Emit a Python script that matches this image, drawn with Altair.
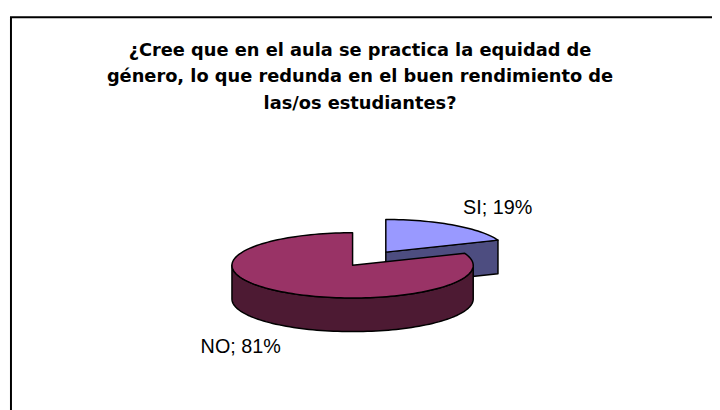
import altair as alt
import pandas as pd
import numpy as np

# ---- data ----
categories = ["SI", "NO"]
values = [19, 81]
title_lines = [
    "¿Cree que en el aula se practica la equidad de",
    "género, lo que redunda en el buen rendimiento de",
    "las/os estudiantes?",
]
top_colors = ["#9999FF", "#993366"]
side_colors = ["#4D4D80", "#4D1A33"]
explode = [0.49, 0.0]

# ---- geometry / style ----
W, H = 712, 402
RX, RY, DEPTH = 122.0, 33.0, 34.0
CX, CY = 356.5 - 8, 266.0 - 8
D = DEPTH / RY
N = 180

total = sum(values)
rows = []
labels = []
polys = []  # (name, fill, kind)
start = 0.0
for k, (cat, v) in enumerate(zip(categories, values)):
    s = start
    e = start + 2 * np.pi * v / total
    start = e
    mid = (s + e) / 2
    ox, oy = explode[k] * np.sin(mid), explode[k] * np.cos(mid)

    def add(name, pts):
        for i, (px, py) in enumerate(pts):
            rows.append({"poly": name, "i": i, "x": px, "y": py})

    # top face
    th = np.linspace(s, e, max(int(N * (e - s) / (2 * np.pi)), 4))
    top = [(ox, oy)] + [(ox + np.sin(t), oy + np.cos(t)) for t in th]
    add(f"top{k}", top)
    polys.append((f"top{k}", top_colors[k], "top"))
    # radial faces
    for a, visible in ((e, 0 < (e % (2 * np.pi)) < np.pi - 1e-9),
                       (s, np.pi + 1e-9 < (s % (2 * np.pi)) < 2 * np.pi)):
        if visible:
            face = [(ox, oy), (ox + np.sin(a), oy + np.cos(a)),
                    (ox + np.sin(a), oy + np.cos(a) - D), (ox, oy - D)]
            add(f"rad{k}_{a:.3f}", face)
            polys.append((f"rad{k}_{a:.3f}", side_colors[k], "side"))
    # curved front side
    a0, a1 = max(s, np.pi / 2), min(e, 3 * np.pi / 2)
    if a1 > a0:
        th = np.linspace(a0, a1, max(int(N * (a1 - a0) / (2 * np.pi)), 4))
        upper = [(ox + np.sin(t), oy + np.cos(t)) for t in th]
        lower = [(x, y - D) for x, y in upper[::-1]]
        add(f"curve{k}", upper + lower)
        polys.append((f"curve{k}", side_colors[k], "side"))
    # label
    lr = 1.65
    lx, ly = ox + lr * np.sin(mid), oy + lr * np.cos(mid)
    if np.cos(mid) < 0:
        ly -= D + 0.1
    labels.append({"label": f"{cat}; {v}%", "x": lx, "y": ly})

pie_df = pd.DataFrame(rows)
label_df = pd.DataFrame(labels)

xs = alt.Scale(domain=[(0 - CX) / RX, (W - CX) / RX], nice=False, zero=False)
ys = alt.Scale(domain=[(CY - H) / RY, CY / RY], nice=False, zero=False)

layers = []
ordered = [p for p in polys if p[2] == "side"] + [p for p in polys if p[2] == "top"]
for name, fill, kind in ordered:
    layers.append(
        alt.Chart(pie_df)
        .transform_filter(alt.datum.poly == name)
        .mark_line(interpolate="linear-closed", filled=True, fill=fill,
                   stroke="black", strokeWidth=1.5, strokeJoin="round")
        .encode(x=alt.X("x:Q", scale=xs, axis=None),
                y=alt.Y("y:Q", scale=ys, axis=None),
                order=alt.Order("i:Q"))
    )

text = alt.Chart(label_df).mark_text(
    font="Liberation Sans", fontSize=20, color="black",
    align="center", baseline="middle"
).encode(x=alt.X("x:Q", scale=xs, axis=None),
         y=alt.Y("y:Q", scale=ys, axis=None),
         text="label:N")

border = alt.Chart(alt.Data(values=[{}])).mark_rect(
    fill=None, stroke="black", strokeWidth=2
).encode(x=alt.value(3), x2=alt.value(740), y=alt.value(7), y2=alt.value(440))

chart = alt.layer(border, *layers, text).properties(
    width=W, height=H,
    autosize=alt.AutoSizeParams(type="none"),
    padding=0,
    background="white",
    title=alt.Title(
        text=title_lines, font="DejaVu Sans", fontSize=18,
        fontWeight="bold", color="black", lineHeight=27,
        anchor="middle", baseline="top", offset=-104,
    ),
).configure_view(stroke=None)

chart.save("out.html", embed_options={"renderer": "svg", "actions": False})
